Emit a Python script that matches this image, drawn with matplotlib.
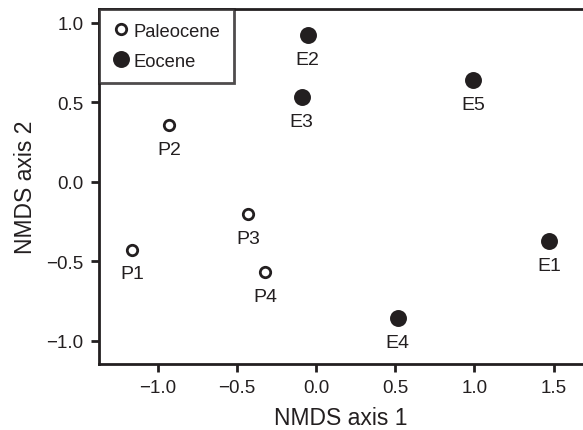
import matplotlib.pyplot as plt

plt.rcParams['font.family'] = ['Liberation Sans', 'DejaVu Sans']

ink = "#231f20"

# Paleocene sites
pal_names = ["P1", "P2", "P3", "P4"]
pal_x = [-1.16, -0.926, -0.427, -0.32]
pal_y = [-0.426, 0.358, -0.20, -0.568]

# Eocene sites
eoc_names = ["E1", "E2", "E3", "E4", "E5"]
eoc_x = [1.473, -0.052, -0.09, 0.516, 0.993]
eoc_y = [-0.373, 0.926, 0.533, -0.857, 0.643]

fig = plt.figure(figsize=(5.83, 4.31), dpi=100)
ax = fig.add_axes([99 / 583, 66 / 431, 1 - 99 / 583, 355 / 431])

ax.plot(pal_x, pal_y, "o", ms=7.5, mfc="white", mec=ink, mew=2.0,
        ls="none", label="Paleocene")
ax.plot(eoc_x, eoc_y, "o", ms=12.2, mfc=ink, mec=ink, mew=0,
        ls="none", label="Eocene")

for n, x, y in zip(pal_names + eoc_names, pal_x + eoc_x, pal_y + eoc_y):
    ax.annotate(n, (x, y), xytext=(0, -17.5), textcoords="offset points",
                ha="center", va="center", fontsize=14, color=ink)

ax.set_xlim(-1.37, 1.686)
ax.set_ylim(-1.145, 1.088)
ax.set_xticks([-1.0, -0.5, 0.0, 0.5, 1.0, 1.5])
ax.set_yticks([-1.0, -0.5, 0.0, 0.5, 1.0])
ax.set_xticklabels(["\u22121.0", "\u22120.5", "0.0", "0.5", "1.0", "1.5"])
ax.set_yticklabels(["\u22121.0", "\u22120.5", "0.0", "0.5", "1.0"])

for s in ["left", "bottom", "top"]:
    ax.spines[s].set_linewidth(2)
    ax.spines[s].set_color(ink)
ax.spines["right"].set_visible(False)
ax.tick_params(width=2, length=6, color=ink, labelsize=13.5, labelcolor=ink, pad=5)

ax.set_xlabel("NMDS axis 1", fontsize=16.5, color=ink, labelpad=7)
ax.set_ylabel("NMDS axis 2", fontsize=16.5, color=ink, labelpad=7)

leg = ax.legend(loc="upper left", borderaxespad=0, fancybox=False,
                fontsize=13.2, handletextpad=0.25, handlelength=0.9,
                borderpad=0.75, labelspacing=0.7, labelcolor=ink)
leg.get_frame().set_edgecolor(ink)
leg.get_frame().set_linewidth(2)

fig.savefig("out.png", dpi=100)
